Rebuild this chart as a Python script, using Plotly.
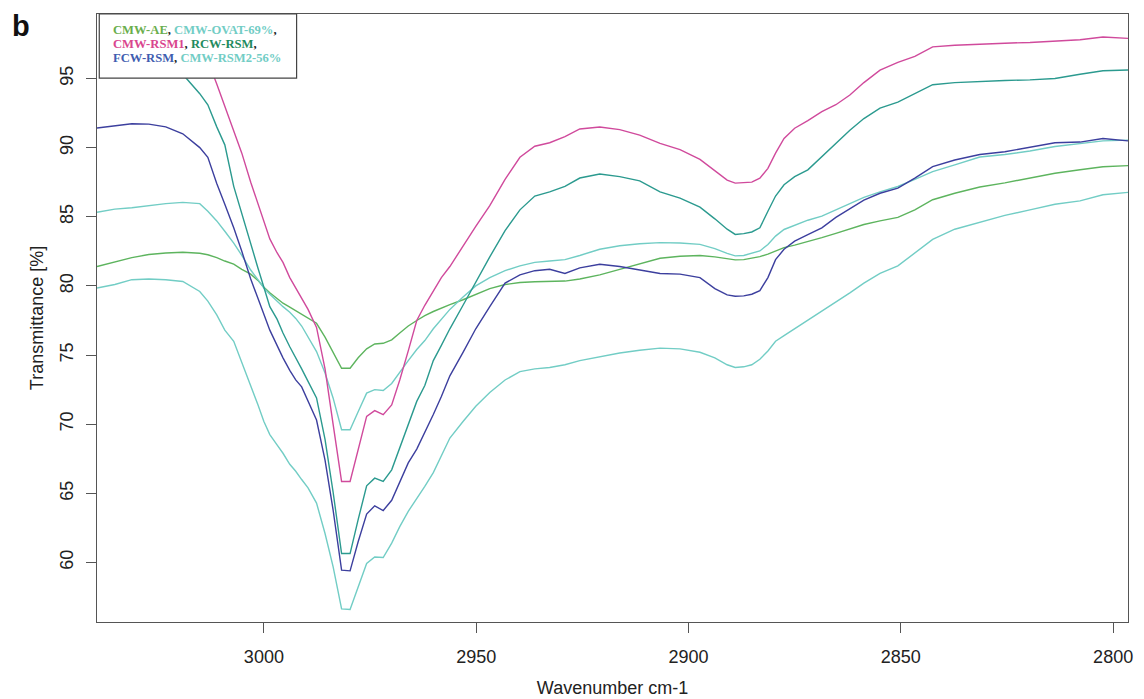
import plotly.graph_objects as go

wavenumber = [3039.3, 3035.1, 3031.1, 3027.1, 3023.1, 3019.1, 3015.1, 3013.2, 3011.1, 3009.2,
              3007.1, 3005.2, 3003.1, 3001.4, 3000.0, 2998.6, 2996.9, 2995.5, 2993.9, 2992.5,
              2991.1, 2989.6, 2987.6, 2985.6, 2983.7, 2981.7, 2979.7, 2977.8, 2975.8, 2973.9,
              2971.9, 2969.9, 2968.0, 2966.0, 2964.0, 2962.1, 2960.1, 2958.2, 2956.2, 2953.1,
              2950.1, 2946.8, 2943.2, 2939.7, 2936.2, 2932.7, 2929.1, 2925.6, 2920.9, 2916.2,
              2911.5, 2906.7, 2902.0, 2897.3, 2893.8, 2890.9, 2889.0, 2887.0, 2885.1, 2883.2,
              2881.3, 2879.5, 2877.5, 2875.0, 2871.9, 2868.6, 2865.3, 2862.0, 2858.7, 2854.9,
              2850.7, 2846.7, 2842.5, 2837.3, 2831.4, 2825.5, 2819.6, 2813.7, 2807.8, 2802.4, 2796.5]

cmw_ae = [81.4, 81.74, 82.05, 82.27, 82.38, 82.43, 82.36, 82.25, 82.05, 81.8,
          81.57, 81.2, 80.85, 80.4, 79.9, 79.5, 79.06, 78.75, 78.46, 78.2,
          77.91, 77.65, 77.3, 76.3, 75.2, 74.05, 74.05, 74.8, 75.45, 75.8,
          75.85, 76.1, 76.6, 77.1, 77.5, 77.85, 78.15, 78.4, 78.65, 79.0,
          79.4, 79.8, 80.1, 80.25, 80.3, 80.3, 80.35, 80.5, 80.8, 81.2,
          81.6, 82.0, 82.15, 82.2, 82.1, 81.95, 81.88, 81.9, 82.0, 82.12,
          82.3, 82.55, 82.77, 82.95, 83.2, 83.49, 83.8, 84.1, 84.44, 84.7,
          84.95, 85.5, 86.23, 86.7, 87.15, 87.45, 87.8, 88.15, 88.4, 88.62, 88.7]

cmw_ovat_69 = [85.32, 85.55, 85.65, 85.8, 85.95, 86.04, 85.95, 85.4, 84.7, 83.95,
               83.1, 82.2, 81.15, 80.45, 79.85, 79.4, 78.9, 78.5, 78.1, 77.65,
               77.1, 76.3, 75.25, 73.7, 71.9, 69.6, 69.6, 70.9, 72.25, 72.5,
               72.44, 72.95, 73.8, 74.6, 75.4, 76.05, 76.9, 77.6, 78.3, 79.2,
               80.0, 80.6, 81.1, 81.45, 81.7, 81.8, 81.9, 82.2, 82.65, 82.9,
               83.05, 83.13, 83.1, 83.0, 82.7, 82.35, 82.17, 82.2, 82.35, 82.53,
               83.0, 83.6, 84.08, 84.4, 84.75, 85.04, 85.5, 85.95, 86.4, 86.8,
               87.19, 87.7, 88.26, 88.75, 89.32, 89.5, 89.75, 90.08, 90.3, 90.49, 90.54]

cmw_rsm1 = [100.3, 100.4, 100.4, 100.3, 99.9, 99.1, 97.6, 96.3, 94.6, 93.0,
            91.3, 89.6, 87.5, 85.9, 84.6, 83.4, 82.4, 81.7, 80.6, 79.85,
            79.1, 78.3, 77.0, 74.0, 70.0, 65.86, 65.86, 68.2, 70.57, 70.98,
            70.69, 71.4, 73.2, 75.3, 77.5, 78.6, 79.6, 80.6, 81.4, 82.9,
            84.3, 85.8, 87.7, 89.3, 90.1, 90.35, 90.8, 91.35, 91.49, 91.3,
            90.9, 90.3, 89.85, 89.15, 88.3, 87.65, 87.43, 87.45, 87.5, 87.79,
            88.5, 89.6, 90.66, 91.4, 91.95, 92.6, 93.1, 93.8, 94.7, 95.6,
            96.16, 96.6, 97.28, 97.4, 97.5, 97.55, 97.6, 97.7, 97.8, 98.0, 97.9]

rcw_rsm = [99.8, 99.6, 99.2, 98.6, 97.5, 95.3, 93.9, 93.1, 91.5, 90.2,
           87.2, 85.2, 82.9, 81.3, 79.9, 78.5, 77.6, 76.6, 75.6, 74.85,
           74.0, 73.1, 71.9, 68.9, 65.1, 60.65, 60.65, 63.1, 65.55, 66.1,
           65.86, 66.7, 68.3, 70.0, 71.65, 72.8, 74.6, 75.7, 76.9, 78.6,
           80.3, 82.1, 84.0, 85.5, 86.5, 86.8, 87.2, 87.8, 88.09, 87.9,
           87.6, 86.8, 86.35, 85.7, 84.85, 84.1, 83.72, 83.78, 83.9, 84.2,
           85.4, 86.5, 87.31, 87.9, 88.39, 89.34, 90.3, 91.26, 92.1, 92.85,
           93.29, 93.9, 94.55, 94.7, 94.79, 94.85, 94.9, 95.0, 95.3, 95.56, 95.61]

fcw_rsm = [91.42, 91.6, 91.72, 91.7, 91.5, 91.0, 90.0, 89.3, 87.4, 85.9,
           84.2, 82.5, 80.5, 79.1, 78.0, 76.8, 75.7, 74.8, 73.9, 73.2,
           72.7, 71.7, 70.3, 67.4, 63.8, 59.45, 59.4, 61.5, 63.5, 64.1,
           63.76, 64.5, 65.8, 67.2, 68.2, 69.4, 70.7, 72.0, 73.5, 75.2,
           76.9, 78.5, 80.2, 80.8, 81.1, 81.2, 80.9, 81.3, 81.57, 81.4,
           81.15, 80.9, 80.85, 80.6, 79.8, 79.35, 79.25, 79.28, 79.4, 79.66,
           80.6, 81.9, 82.65, 83.24, 83.7, 84.2, 84.95, 85.6, 86.2, 86.7,
           87.07, 87.8, 88.62, 89.1, 89.5, 89.7, 90.0, 90.35, 90.4, 90.66, 90.49]

cmw_rsm2_56 = [79.85, 80.1, 80.45, 80.5, 80.45, 80.32, 79.6, 78.9, 77.9, 76.8,
               76.0, 74.5, 72.7, 71.4, 70.2, 69.25, 68.5, 67.9, 67.1, 66.6,
               66.0, 65.4, 64.3, 62.1, 59.7, 56.65, 56.6, 58.3, 59.93, 60.4,
               60.36, 61.4, 62.6, 63.7, 64.6, 65.5, 66.5, 67.7, 69.0, 70.2,
               71.3, 72.3, 73.2, 73.8, 74.0, 74.1, 74.3, 74.6, 74.9, 75.15,
               75.35, 75.5, 75.45, 75.2, 74.8, 74.3, 74.1, 74.15, 74.3, 74.7,
               75.3, 76.0, 76.4, 76.9, 77.5, 78.2, 78.8, 79.5, 80.2, 80.9,
               81.45, 82.4, 83.36, 84.1, 84.6, 85.1, 85.5, 85.9, 86.15, 86.59, 86.76]

x_ticks = [3000, 2950, 2900, 2850, 2800]
y_ticks = [60, 65, 70, 75, 80, 85, 90, 95]

series = [
    ("CMW-AE", cmw_ae, "#5DB45E"),
    ("CMW-OVAT-69%", cmw_ovat_69, "#72CDC5"),
    ("CMW-RSM1", cmw_rsm1, "#D04A9C"),
    ("RCW-RSM", rcw_rsm, "#2B9A8F"),
    ("FCW-RSM", fcw_rsm, "#3C3F9E"),
    ("CMW-RSM2-56%", cmw_rsm2_56, "#72CDC5"),
]

fig = go.Figure()
for name, vals, col in series:
    fig.add_trace(go.Scatter(x=wavenumber, y=vals, mode="lines", name=name,
                             line=dict(color=col, width=1.4), showlegend=False))

axis_common = dict(showline=True, mirror=True, linecolor="#555555", linewidth=1.2,
                   ticks="outside", ticklen=10, tickcolor="#555555", tickwidth=1.2,
                   showgrid=False, zeroline=False,
                   tickfont=dict(family="Liberation Sans, Arial", size=18, color="#222222"))

fig.update_layout(
    width=1136, height=691, autosize=False,
    paper_bgcolor="white", plot_bgcolor="white",
    margin=dict(l=89, r=16, t=5, b=73),
    xaxis=dict(range=[3039.3, 2796.5], tickvals=x_ticks, ticklabelstandoff=8,
               title=dict(text="Wavenumber cm-1", standoff=15,
                          font=dict(family="Liberation Sans, Arial", size=18, color="#222222")),
               **axis_common),
    yaxis=dict(range=[55.7, 99.66], tickvals=y_ticks, tickangle=-90, ticklabelstandoff=6,
               title=dict(text="Transmittance [%]", standoff=8,
                          font=dict(family="Liberation Sans, Arial", size=18, color="#222222")),
               **axis_common),
)

# legend box (R-style, white background over the lines)
fig.add_shape(type="rect", xref="paper", yref="paper", x0=0.0022, x1=0.1936, y0=0.8945, y1=1.0,
              fillcolor="white", line=dict(color="#444444", width=1.2), layer="above")

lf = dict(family="Liberation Serif, Times New Roman, serif", size=12.6)
legend_lines = [
    '<b><span style="color:#6AAE4C">CMW-AE</span>, <span style="color:#72CDC5">CMW-OVAT-69%</span>,</b>',
    '<b><span style="color:#D9468E">CMW-RSM1</span>, <span style="color:#1F8B5E">RCW-RSM</span>,</b>',
    '<b><span style="color:#3F5DB0">FCW-RSM</span>, <span style="color:#72CDC5">CMW-RSM2-56%</span></b>',
]
for i, txt in enumerate(legend_lines):
    fig.add_annotation(xref="paper", yref="paper", x=0.0136, y=[0.9739, 0.9511, 0.9282][i],
                       xanchor="left", yanchor="middle", text=txt, showarrow=False,
                       font=dict(color="#222222", **lf))

fig.add_annotation(xref="paper", yref="paper", x=-0.0737, y=1.0075, xanchor="center", yanchor="top",
                   text="<b>b</b>", showarrow=False, borderpad=0,
                   font=dict(family="Liberation Sans, Arial", size=29, color="#111111"))

fig.write_html("out.html")
